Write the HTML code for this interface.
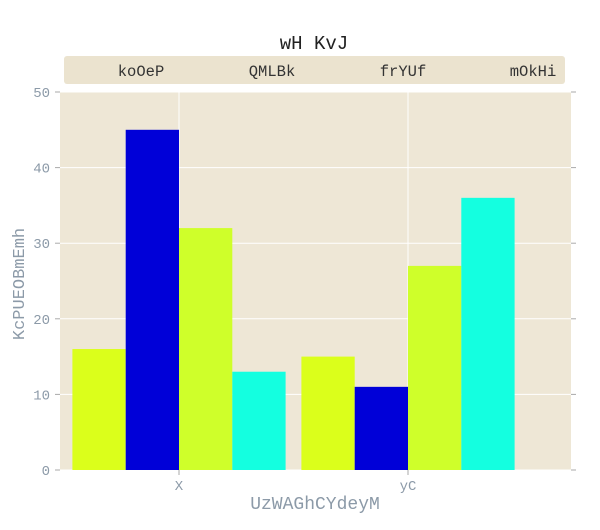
<!DOCTYPE html>
<html><head><meta charset="utf-8"><style>
body{margin:0;background:#fff;}
svg text{font-family:"Liberation Mono",monospace;}
</style></head><body>
<svg width="600" height="525">
<text x="314" y="49" font-size="19" text-anchor="middle" fill="#222">wH KvJ</text>
<rect x="64" y="56" width="501" height="28" rx="3" fill="#ebe3cf"/>
<g id="legend-items"></g>
<rect x="60" y="92" width="511" height="378" fill="#eee7d6"/>
<g id="grid"></g><g id="bars"></g><g id="axes"></g>
<text x="24" y="284" font-size="17" fill="#8c9aa8" text-anchor="middle" transform="rotate(-90 24 284)">KcPUEOBmEmh</text>
<text x="315" y="509" font-size="18" fill="#8c9aa8" text-anchor="middle">UzWAGhCYdeyM</text>
</svg>
<script>
const categories=["X","yC"];
const seriesNames=["koOeP","QMLBk","frYUf","mOkHi"];
const s0=[16,15];
const s1=[45,11];
const s2=[32,27];
const s3=[13,36];
const yTicks=[0,10,20,30,40,50];
const series=[s0,s1,s2,s3];
const colors=["#dbff1b","#0000d8","#cfff2a","#14ffe0"];
const NS="http://www.w3.org/2000/svg";
const y=v=>470-v*(378/50);
const xc=i=>179+i*229;
const bw=53.3;
function mk(t,a,p){const e=document.createElementNS(NS,t);for(const k in a)e.setAttribute(k,a[k]);p.appendChild(e);return e;}
const grid=document.getElementById('grid'),bars=document.getElementById('bars'),axes=document.getElementById('axes'),leg=document.getElementById('legend-items');
yTicks.forEach(t=>{
 const l=mk('line',{x1:60,x2:571,y1:y(t),y2:y(t),stroke:'#fff','stroke-width':1},grid);
 
 
 const tk=mk('line',{x1:55,x2:60,y1:y(t),y2:y(t),stroke:'#aaa','stroke-width':1},axes);
 
 
 const tk2=mk('line',{x1:571,x2:576,y1:y(t),y2:y(t),stroke:'#aaa','stroke-width':1},axes);
 
 
 const tx=mk('text',{x:50,y:y(t)+5,'font-size':14,fill:'#8c9aa8','text-anchor':'end'},axes);
 tx.textContent=t;
 
 
});
categories.forEach((c,i)=>{
 const l=mk('line',{x1:xc(i),x2:xc(i),y1:92,y2:470,stroke:'#fff','stroke-width':1},grid);
 
 
 const tk=mk('line',{x1:xc(i),x2:xc(i),y1:470,y2:475,stroke:'#aaa','stroke-width':1},axes);
 
 
 const tx=mk('text',{x:xc(i),y:490,'font-size':14,fill:'#8c9aa8','text-anchor':'middle'},axes);
 tx.textContent=c;
 
 
 series.forEach((s,j)=>{
  const x0=xc(i)-2*bw+j*bw;
  const r=mk('rect',{x:x0,y:y(s[i]),width:bw,height:470-y(s[i]),fill:colors[j]},bars);
  
  
 });
});
const lx=[141,272,403,533];
seriesNames.forEach((n,j)=>{
 const tx=mk('text',{x:lx[j],y:76,'font-size':15.5,fill:'#333','text-anchor':'middle'},leg);
 tx.textContent=n;
 
 
});
</script>
</body></html>
